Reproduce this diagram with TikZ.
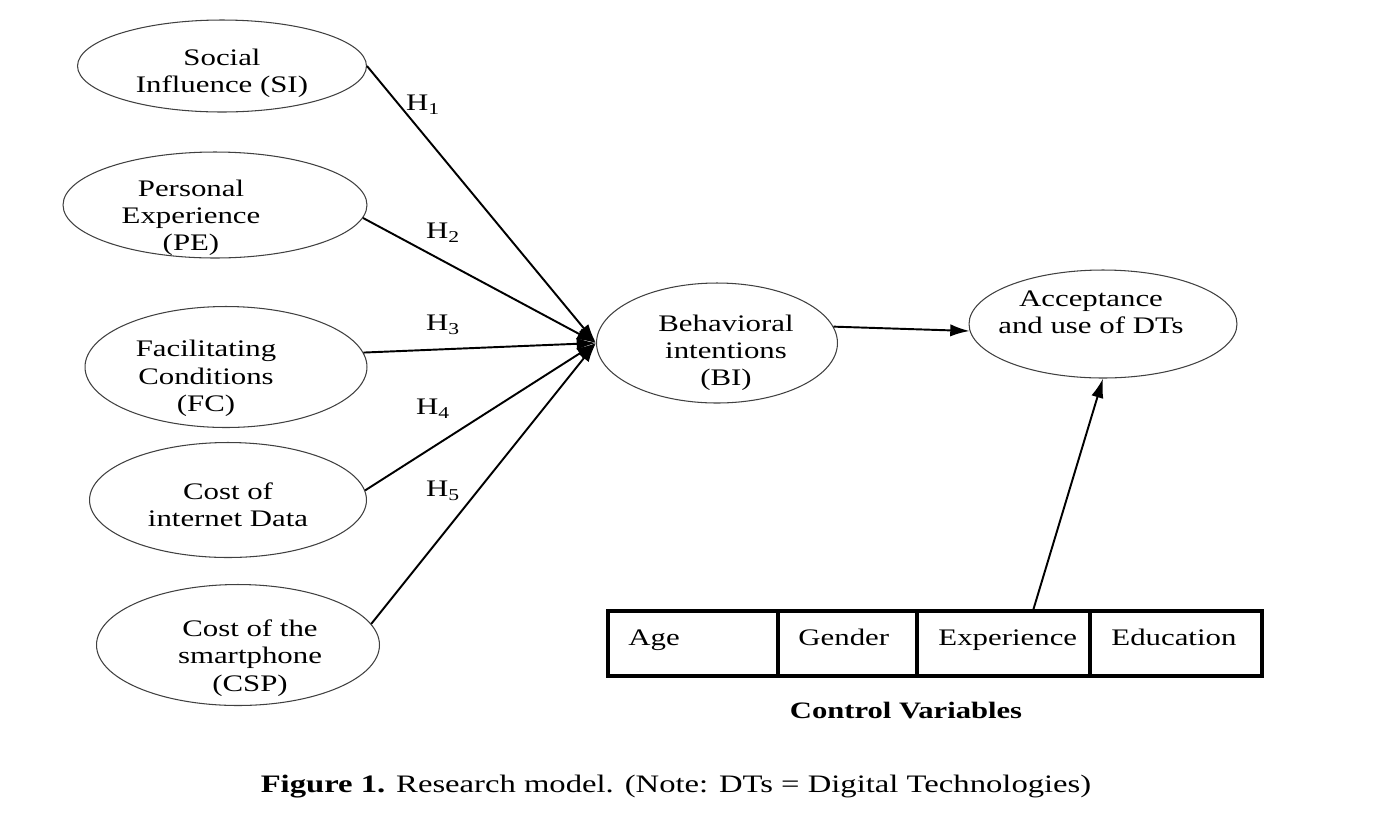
\documentclass[tikz,border=0pt]{standalone}
\usepackage{fontspec}
\setmainfont{Liberation Serif}[FakeStretch=1.3]
\usetikzlibrary{arrows.meta,shapes.geometric}

\begin{document}
\begin{tikzpicture}[x=0.02cm,y=-0.02cm,
  construct/.style={ellipse,draw=black!75,line width=0.6pt,inner sep=0pt},
  ctext/.style={inner sep=0pt,align=center,font=\fontsize{13.5}{15.5}\selectfont},
  hyp/.style={-{Latex[length=11pt,width=7pt]},line width=1.1pt},
  hlabel/.style={inner sep=0pt,font=\fontsize{13.5}{15.5}\selectfont},
  cvbox/.style={draw,line width=2.2pt,minimum height=1.3cm,inner sep=0pt},
  cvtext/.style={anchor=base west,inner sep=0pt,font=\fontsize{13.5}{15.5}\selectfont}]
 \useasboundingbox (0,0) rectangle (1384,816);
 % constructs
 \node[construct,minimum width=5.78cm,minimum height=1.84cm] (si) at (222,66) {};
 \node[construct,minimum width=6.08cm,minimum height=2.12cm] (pe) at (215,205) {};
 \node[construct,minimum width=5.64cm,minimum height=2.42cm] (fc) at (226,367) {};
 \node[construct,minimum width=5.54cm,minimum height=2.30cm] (cid) at (228,500) {};
 \node[construct,minimum width=5.66cm,minimum height=2.42cm] (csp) at (238,645) {};
 \node[construct,minimum width=4.82cm,minimum height=2.40cm] (bi) at (717,343) {};
 \node[construct,minimum width=5.36cm,minimum height=2.16cm] (acc) at (1103,324) {};
 \node[ctext] (sitxt) at (222,73.5) {Social\\Influence (SI)};
 \node[ctext] (petxt) at (191,218) {Personal\\Experience\\(PE)};
 \node[ctext] (fctxt) at (206,378.5) {Facilitating\\Conditions\\(FC)};
 \node[ctext] (cidtxt) at (228,504.5) {Cost of\\internet Data};
 \node[ctext] (csptxt) at (250,658) {Cost of the\\smartphone\\(CSP)};
 \node[ctext] (bitxt) at (726,353) {Behavioral\\intentions\\(BI)};
 \node[ctext] (acctxt) at (1091,312.5) {Acceptance\\and use of DTs};
 % hypotheses
 \draw[hyp] (si.east) -- (bi.west);
 \draw[hyp] (pe.-5) -- (bi.west);
 \draw[hyp] (fc.6) -- (bi.west);
 \draw[hyp] (cid.4) -- (bi.west);
 \draw[hyp] (csp.9) -- (bi.west);
 \node[hlabel] (h1) at (423,105) {H\textsubscript{1}};
 \node[hlabel] (h2) at (443,233) {H\textsubscript{2}};
 \node[hlabel] (h3) at (443,325) {H\textsubscript{3}};
 \node[hlabel] (h4) at (433,409) {H\textsubscript{4}};
 \node[hlabel] (h5) at (443,491) {H\textsubscript{5}};
 \draw[hyp] (bi.8) -- (acc.183);
 % control variables
 \node[cvbox,minimum width=3.40cm] (age) at (693,643.5) {};
 \node[cvbox,minimum width=2.78cm] (gender) at (847.5,643.5) {};
 \node[cvbox,minimum width=3.46cm] (exper) at (1003.5,643.5) {};
 \node[cvbox,minimum width=3.44cm] (educ) at (1176,643.5) {};
 \node[cvtext] (agetxt) at ([xshift=0.44cm,yshift=-0.03cm]age.west) {Age};
 \node[cvtext] (gendertxt) at ([xshift=0.44cm,yshift=-0.03cm]gender.west) {Gender};
 \node[cvtext] (expertxt) at ([xshift=0.46cm,yshift=-0.03cm]exper.west) {Experience};
 \node[cvtext] (eductxt) at ([xshift=0.46cm,yshift=-0.03cm]educ.west) {Education};
 \draw[hyp] ([xshift=0.6cm]exper.north) -- (acc.south);
 \node[inner sep=0pt,font=\fontsize{13.4}{15}\selectfont\bfseries] (cvlabel) at (906,710) {Control Variables};
 % caption
 \node[inner sep=0pt,font=\fontsize{14.3}{16}\selectfont] (caption) at (676,787) {\textbf{Figure 1.} Research model. (Note: DTs = Digital Technologies)};
\end{tikzpicture}
\end{document}
